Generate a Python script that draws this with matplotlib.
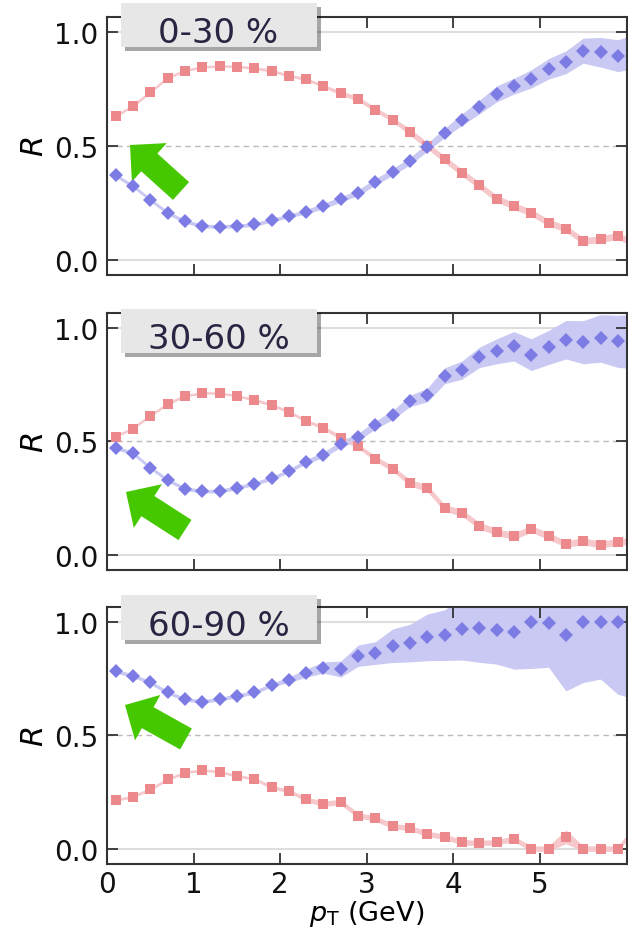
import numpy as np
import matplotlib
matplotlib.use('Agg')
import matplotlib.pyplot as plt
from matplotlib.patches import FancyArrow, Rectangle
from matplotlib.ticker import FormatStrFormatter
import matplotlib.patheffects as pe

# bin centres (last one sits just outside the frame, only the band reaches it)
PT = [0.1, 0.3, 0.5, 0.7, 0.9, 1.1, 1.3, 1.5, 1.7, 1.9, 2.1, 2.3, 2.5, 2.7, 2.9,
      3.1, 3.3, 3.5, 3.7, 3.9, 4.1, 4.3, 4.5, 4.7, 4.9, 5.1, 5.3, 5.5, 5.7, 5.9, 6.1]

LABELS = ['0-30 %', '30-60 %', '60-90 %']

RED_0 = [0.630, 0.674, 0.735, 0.797, 0.830, 0.845, 0.850, 0.848, 0.841, 0.830, 0.808,
         0.793, 0.762, 0.732, 0.706, 0.659, 0.615, 0.560, 0.501, 0.440, 0.382, 0.326,
         0.268, 0.235, 0.206, 0.162, 0.136, 0.082, 0.089, 0.104, 0.068]
BLUE_0 = [0.370, 0.323, 0.263, 0.205, 0.168, 0.148, 0.145, 0.148, 0.154, 0.172, 0.192,
          0.210, 0.235, 0.264, 0.294, 0.341, 0.385, 0.433, 0.494, 0.557, 0.615, 0.670,
          0.728, 0.762, 0.794, 0.838, 0.867, 0.918, 0.911, 0.896, 0.915]
RED_ERR_0 = [0.004, 0.004, 0.004, 0.004, 0.004, 0.004, 0.004, 0.004, 0.006, 0.006, 0.006,
             0.006, 0.006, 0.010, 0.010, 0.010, 0.010, 0.015, 0.015, 0.015, 0.015, 0.015,
             0.015, 0.015, 0.015, 0.015, 0.015, 0.015, 0.015, 0.015, 0.015]
BLUE_ERR_0 = [0.008, 0.008, 0.008, 0.008, 0.008, 0.008, 0.008, 0.008, 0.008, 0.008, 0.008,
              0.010, 0.012, 0.012, 0.013, 0.014, 0.015, 0.016, 0.018, 0.020, 0.025, 0.030,
              0.035, 0.035, 0.040, 0.045, 0.050, 0.055, 0.065, 0.070, 0.075]

RED_1 = [0.521, 0.556, 0.612, 0.664, 0.700, 0.712, 0.712, 0.700, 0.683, 0.661, 0.630,
         0.590, 0.560, 0.516, 0.479, 0.423, 0.379, 0.317, 0.292, 0.206, 0.184, 0.128,
         0.100, 0.081, 0.114, 0.081, 0.047, 0.059, 0.044, 0.056, 0.060]
BLUE_1 = [0.472, 0.447, 0.384, 0.329, 0.291, 0.280, 0.280, 0.295, 0.313, 0.336, 0.369,
          0.410, 0.440, 0.487, 0.519, 0.572, 0.616, 0.678, 0.704, 0.789, 0.814, 0.870,
          0.897, 0.919, 0.882, 0.914, 0.948, 0.937, 0.954, 0.941, 0.940]
RED_ERR_1 = [0.004, 0.004, 0.004, 0.004, 0.004, 0.004, 0.004, 0.004, 0.006, 0.006, 0.006,
             0.006, 0.008, 0.010, 0.010, 0.012, 0.012, 0.014, 0.015, 0.015, 0.015, 0.015,
             0.015, 0.015, 0.015, 0.015, 0.015, 0.015, 0.015, 0.015, 0.015]
BLUE_ERR_1 = [0.008, 0.008, 0.008, 0.008, 0.008, 0.008, 0.008, 0.008, 0.008, 0.008, 0.008,
              0.010, 0.012, 0.014, 0.016, 0.018, 0.020, 0.025, 0.030, 0.035, 0.040, 0.045,
              0.055, 0.065, 0.070, 0.075, 0.085, 0.095, 0.105, 0.115, 0.120]

RED_2 = [0.214, 0.229, 0.261, 0.305, 0.335, 0.346, 0.339, 0.320, 0.308, 0.271, 0.254,
         0.217, 0.198, 0.205, 0.146, 0.133, 0.099, 0.091, 0.065, 0.052, 0.028, 0.025,
         0.028, 0.043, 0.000, 0.000, 0.052, 0.000, 0.000, 0.000, 0.090]
BLUE_2 = [0.782, 0.763, 0.733, 0.689, 0.659, 0.649, 0.659, 0.674, 0.689, 0.721, 0.745,
          0.774, 0.799, 0.792, 0.851, 0.863, 0.895, 0.907, 0.932, 0.942, 0.969, 0.972,
          0.966, 0.957, 0.999, 0.996, 0.942, 1.000, 1.000, 1.000, 1.000]
RED_ERR_2 = [0.005, 0.005, 0.005, 0.005, 0.005, 0.005, 0.005, 0.005, 0.006, 0.008, 0.008,
             0.010, 0.012, 0.012, 0.012, 0.012, 0.012, 0.012, 0.012, 0.012, 0.012, 0.012,
             0.012, 0.012, 0.012, 0.012, 0.030, 0.012, 0.012, 0.012, 0.012]
BLUE_ERR_2 = [0.008, 0.008, 0.008, 0.008, 0.008, 0.008, 0.008, 0.008, 0.008, 0.008, 0.012,
              0.018, 0.025, 0.035, 0.047, 0.050, 0.074, 0.083, 0.103, 0.112, 0.137, 0.150,
              0.152, 0.165, 0.204, 0.196, 0.246, 0.267, 0.252, 0.319, 0.340]

PANELS = [(RED_0, RED_ERR_0, BLUE_0, BLUE_ERR_0),
          (RED_1, RED_ERR_1, BLUE_1, BLUE_ERR_1),
          (RED_2, RED_ERR_2, BLUE_2, BLUE_ERR_2)]

RED = '#ec898d'
RED_BAND = '#f6c8cb'
BLUE = '#7c7ce4'
BLUE_BAND = '#c9c9f3'
GREEN = '#46c800'
SPINE = '#333333'

# layout in figure pixels (628 x 928)
AX_BOX = [(18, 276), (314, 571), (608, 865)]          # top, bottom of each frame
ARROWS = [((181, 192), (130, 146)), ((185, 531), (126, 493)), ((186, 740), (125, 706))]
TAG_BOX = [(4, 48), (310, 354), (596, 641)]
TAG_BASE = [43, 349, 636]

W, H = 628, 928
fig = plt.figure(figsize=(W / 100, H / 100), dpi=100)

x = np.array(PT)
for i, (red, rerr, blue, berr) in enumerate(PANELS):
    top, bot = AX_BOX[i]
    ax = fig.add_axes([107 / W, (H - bot) / H, 519.5 / W, (bot - top) / H])
    red, rerr, blue, berr = map(np.array, (red, rerr, blue, berr))

    ax.axhline(0, color='#dddddd', lw=1.5, zorder=0.5)
    ax.axhline(1, color='#dddddd', lw=1.5, zorder=0.5)
    ax.axhline(0.5, color='#bbbbbb', lw=1.0, ls=(0, (4, 3)), zorder=0.6)

    ax.fill_between(x, red - rerr, red + rerr, color=RED_BAND, lw=0, zorder=1)
    ax.fill_between(x, blue - berr, blue + berr, color=BLUE_BAND, lw=0, zorder=1)
    ax.plot(x, red, color=RED_BAND, lw=1.4, zorder=1.2)
    ax.plot(x, blue, color=BLUE_BAND, lw=1.4, zorder=1.2)

    (tx, ty), (hx, hy) = ARROWS[i]
    arr = FancyArrow(tx / 100, (H - ty) / 100, (hx - tx) / 100, -(hy - ty) / 100,
                     width=0.24, head_width=0.52, head_length=0.26,
                     length_includes_head=True, color=GREEN, lw=0,
                     transform=fig.dpi_scale_trans, zorder=2)
    ax.add_artist(arr)

    ax.plot(x, red, 's', color=RED, ms=7.2, mew=0, zorder=3)
    ax.plot(x, blue, 'D', color=BLUE, ms=6.9, mew=0, zorder=3)

    ax.set_xlim(0, 6)
    ax.set_ylim(-0.068, 1.066)
    ax.set_xticks([0, 1, 2, 3, 4, 5])
    ax.set_yticks([0, 0.5, 1.0])
    ax.yaxis.set_major_formatter(FormatStrFormatter('%.1f'))
    ax.tick_params(direction='in', length=8, width=1.3, top=True, right=True,
                   labelsize=20, pad=6, color=SPINE, labelcolor='#111111')
    for s in ax.spines.values():
        s.set_color(SPINE)
        s.set_linewidth(1.5)
    ax.set_ylabel('$R$', fontsize=22, labelpad=4)
    if i < 2:
        ax.tick_params(labelbottom=False)
    else:
        ax.tick_params(axis='x', pad=4)
        ax.set_xlabel(r'$p_\mathrm{T}$ (GeV)', fontsize=19.5, labelpad=0)

    # centrality tag
    b_top, b_bot = TAG_BOX[i]
    rect = Rectangle((1.21, (H - b_bot) / 100), 1.96, (b_bot - b_top) / 100,
                     transform=fig.dpi_scale_trans, facecolor='#e7e7e7',
                     edgecolor='none', zorder=5)
    rect.set_path_effects([pe.SimplePatchShadow(offset=(3, -3), shadow_rgbFace='k',
                                                alpha=0.35), pe.Normal()])
    fig.add_artist(rect)
    fig.text(2.185 / (W / 100), (H - TAG_BASE[i]) / H, LABELS[i], fontsize=24.5,
             color='#2b2342', ha='center', va='baseline', zorder=6)

fig.savefig('out.png', dpi=100)
